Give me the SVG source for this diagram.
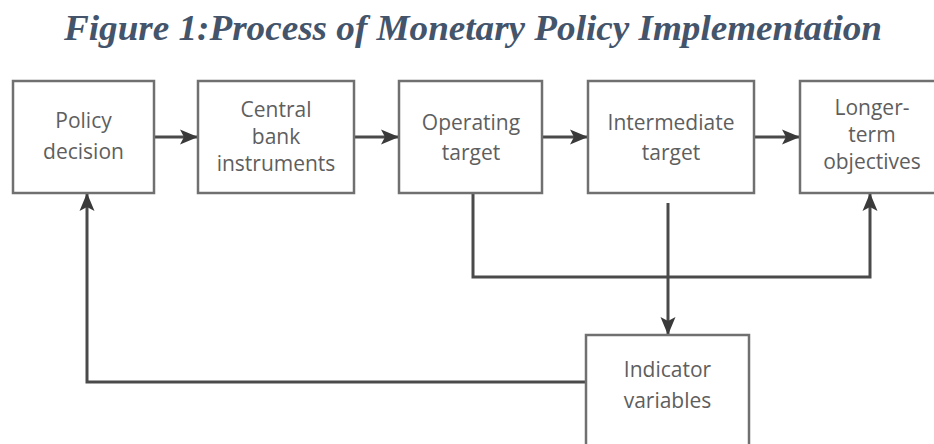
<svg xmlns="http://www.w3.org/2000/svg" width="934" height="444" viewBox="0 0 934 444">
  <style>
    .title { font-family: "Liberation Serif", "Times New Roman", serif; font-weight: bold; font-style: italic; font-size: 35px; fill: #44546a; }
    .box { fill: #ffffff; stroke: #707070; stroke-width: 2.5; }
    .lbl { font-family: "Open Sans", "Liberation Sans", sans-serif; font-size: 21px; fill: #5e5e5e; text-anchor: middle; }
    .conn { fill: none; stroke: #4a4a4a; stroke-width: 3; }
  </style>
  <defs>
    <marker id="ah" markerUnits="userSpaceOnUse" markerWidth="18" markerHeight="16" refX="17" refY="8" orient="auto">
      <path d="M0,0.5 L18,8 L0,15.5 L4,8 Z" fill="#3a3a3a"/>
    </marker>
  </defs>
  <rect width="934" height="444" fill="#ffffff"/>
  <text class="title" x="64" y="40" textLength="818" lengthAdjust="spacingAndGlyphs">Figure 1:Process of Monetary Policy Implementation</text>

  <g id="connectors">
    <line class="conn" x1="154" y1="137" x2="197" y2="137" marker-end="url(#ah)"/>
    <line class="conn" x1="354" y1="137" x2="398" y2="137" marker-end="url(#ah)"/>
    <line class="conn" x1="542" y1="137" x2="587" y2="137" marker-end="url(#ah)"/>
    <line class="conn" x1="754" y1="137" x2="799" y2="137" marker-end="url(#ah)"/>
    <polyline class="conn" points="473,193 473,277 870,277 870,194" marker-end="url(#ah)"/>
    <line class="conn" x1="668" y1="203" x2="668" y2="334" marker-end="url(#ah)"/>
    <polyline class="conn" points="586,382 87,382 87,194" marker-end="url(#ah)"/>
  </g>

  <g id="policy-decision">
    <rect class="box" x="13" y="81" width="141" height="112"/>
    <text class="lbl" x="83.5" y="128">Policy</text>
    <text class="lbl" x="83.5" y="159">decision</text>
  </g>
  <g id="central-bank-instruments">
    <rect class="box" x="198" y="81" width="156" height="112"/>
    <text class="lbl" x="276" y="117">Central</text>
    <text class="lbl" x="276" y="144">bank</text>
    <text class="lbl" x="276" y="171">instruments</text>
  </g>
  <g id="operating-target">
    <rect class="box" x="399" y="81" width="143" height="112"/>
    <text class="lbl" x="471" y="130">Operating</text>
    <text class="lbl" x="471" y="160">target</text>
  </g>
  <g id="intermediate-target">
    <rect class="box" x="588" y="81" width="166" height="112"/>
    <text class="lbl" x="671" y="130">Intermediate</text>
    <text class="lbl" x="671" y="160">target</text>
  </g>
  <g id="longer-term-objectives">
    <rect class="box" x="800" y="81" width="145" height="112"/>
    <text class="lbl" x="872" y="115">Longer-</text>
    <text class="lbl" x="872" y="142">term</text>
    <text class="lbl" x="872" y="169">objectives</text>
  </g>
  <g id="indicator-variables">
    <rect class="box" x="586" y="335" width="163" height="130"/>
    <text class="lbl" x="667.5" y="377">Indicator</text>
    <text class="lbl" x="667.5" y="408">variables</text>
  </g>
</svg>
